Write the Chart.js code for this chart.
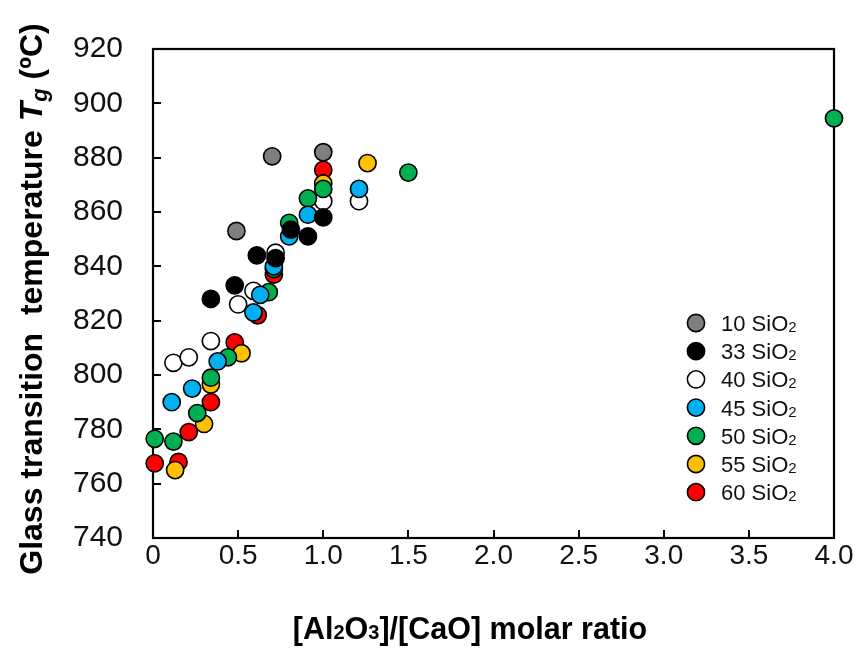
<!DOCTYPE html>
<html>
<head>
<meta charset="utf-8">
<script src="https://cdn.jsdelivr.net/npm/chart.js@4"></script>
<style>
html,body{margin:0;padding:0;background:#fff;}
#wrap{width:861px;height:648px;position:relative;}
</style>
</head>
<body>
<div id="wrap"><canvas id="c" width="861" height="648"></canvas></div>
<script>
// ---- data ----
const seriesNames = ['10', '33', '40', '45', '50', '55', '60'];
const seriesColors = ['#7f7f7f', '#000000', '#ffffff', '#00b0f0', '#00b050', '#ffc000', '#ff0000'];

const x10 = [0.49, 0.70, 1.00];
const y10 = [853, 880.5, 882];

const x33 = [0.34, 0.48, 0.61, 0.72, 0.81, 0.91, 1.00];
const y33 = [828, 833, 844, 843, 853.5, 851, 858];

const x40 = [0.12, 0.21, 0.34, 0.50, 0.59, 0.72, 1.00, 1.21];
const y40 = [804.5, 806.5, 812.5, 826, 831, 845, 864, 864];

const x45 = [0.11, 0.23, 0.38, 0.59, 0.63, 0.71, 0.80, 0.91, 1.21];
const y45 = [790, 795, 805, 823, 829.5, 840, 851, 859, 868.5];

const x50 = [0.01, 0.12, 0.26, 0.34, 0.44, 0.68, 0.71, 0.80, 0.91, 1.00, 1.50, 4.00];
const y50 = [776.5, 775.5, 786, 799, 806.5, 830.5, 839, 856, 865, 868.5, 874.5, 894.5];

const x55 = [0.13, 0.30, 0.34, 0.52, 1.00, 1.26];
const y55 = [765, 782, 796.5, 808, 870.5, 878];

const x60 = [0.01, 0.15, 0.21, 0.34, 0.48, 0.615, 0.71, 1.00];
const y60 = [767.5, 768, 779, 790, 812, 822, 837, 875.5];

const xTicks = [0, 0.5, 1.0, 1.5, 2.0, 2.5, 3.0, 3.5, 4.0];
const yTicks = [740, 760, 780, 800, 820, 840, 860, 880, 900, 920];

const allX = [x10, x33, x40, x45, x50, x55, x60];
const allY = [y10, y33, y40, y45, y50, y55, y60];
// drawing stack (lower = drawn on top)
const stackOrder = [0, 1, 5, 2, 3, 4, 6];

const datasets = seriesNames.map((n, i) => ({
  label: n + ' SiO2',
  data: allX[i].map((x, k) => ({x: x, y: allY[i][k]})),
  backgroundColor: seriesColors[i],
  borderColor: '#000000',
  borderWidth: 1.6,
  pointRadius: 8.6,
  pointHoverRadius: 8.6,
  order: stackOrder[i],
  clip: false
}));

const FONT = "'Liberation Sans', Arial, sans-serif";

const decor = {
  id: 'decor',
  beforeDatasetsDraw(chart) {
    const ctx = chart.ctx, a = chart.chartArea;
    const xs = chart.scales.x, ys = chart.scales.y;
    ctx.save();
    ctx.strokeStyle = '#000';
    ctx.lineWidth = 2.2;
    ctx.strokeRect(a.left, a.top, a.right - a.left, a.bottom - a.top);
    ctx.lineWidth = 2;
    ctx.beginPath();
    yTicks.forEach(v => {
      const p = Math.round(ys.getPixelForValue(v));
      ctx.moveTo(a.left, p); ctx.lineTo(a.left + 8, p);
    });
    xTicks.forEach(v => {
      const p = Math.round(xs.getPixelForValue(v));
      ctx.moveTo(p, a.bottom); ctx.lineTo(p, a.bottom - 8);
    });
    ctx.stroke();
    ctx.restore();
  },
  afterDraw(chart) {
    const ctx = chart.ctx;
    ctx.save();
    ctx.fillStyle = '#000';
    ctx.textBaseline = 'alphabetic';
    // ---- x title with subscripts ----
    const parts = [
      ['[Al', 'bold 30.5px ' + FONT, 0],
      ['2', 'bold 20px ' + FONT, 0],
      ['O', 'bold 30.5px ' + FONT, 0],
      ['3', 'bold 20px ' + FONT, 0],
      [']/[CaO] molar ratio', 'bold 30.5px ' + FONT, 0]
    ];
    let w = 0;
    parts.forEach(p => { ctx.font = p[1]; w += ctx.measureText(p[0]).width; });
    let x = 470 - w / 2;
    const by = 639;
    parts.forEach(p => { ctx.font = p[1]; ctx.fillText(p[0], x, by + p[2]); x += ctx.measureText(p[0]).width; });

    // ---- y title rotated ----
    ctx.save();
    ctx.translate(42, 299);
    ctx.rotate(-Math.PI / 2);
    const yparts = [
      ['Glass transition  temperature ', 'bold 32px ' + FONT, 0],
      ['T', 'italic bold 32px ' + FONT, 0],
      ['g', 'italic bold 22px ' + FONT, 5],
      [' (\u00baC)', 'bold 32px ' + FONT, 0]
    ];
    w = 0;
    yparts.forEach(p => { ctx.font = p[1]; w += ctx.measureText(p[0]).width; });
    x = -w / 2;
    yparts.forEach(p => { ctx.font = p[1]; ctx.fillText(p[0], x, p[2]); x += ctx.measureText(p[0]).width; });
    ctx.restore();

    // ---- legend ----
    const lx = 696, ly0 = 323, dy = 28.2;
    seriesNames.forEach((n, i) => {
      const cy = ly0 + i * dy;
      ctx.beginPath();
      ctx.arc(lx, cy, 8.6, 0, Math.PI * 2);
      ctx.fillStyle = seriesColors[i];
      ctx.fill();
      ctx.lineWidth = 1.6;
      ctx.strokeStyle = '#000';
      ctx.stroke();
      ctx.fillStyle = '#111';
      let tx = 721;
      ctx.font = '22px ' + FONT;
      const s1 = n + ' SiO';
      ctx.fillText(s1, tx, cy + 8);
      tx += ctx.measureText(s1).width;
      ctx.font = '15px ' + FONT;
      ctx.fillText('2', tx, cy + 9);
    });
    ctx.restore();
  }
};

new Chart(document.getElementById('c'), {
  type: 'scatter',
  data: { datasets: datasets },
  options: {
    responsive: false,
    animation: false,
    devicePixelRatio: 1,
    layout: { padding: { left: 0, right: 27, top: 49, bottom: 0 } },
    plugins: { legend: { display: false }, tooltip: { enabled: false } },
    scales: {
      x: {
        type: 'linear',
        min: 0, max: 4,
        afterBuildTicks(scale) { scale.ticks = xTicks.map(v => ({value: v})); },
        afterFit(scale) { scale.height = 110; },
        grid: { display: false, drawTicks: false },
        border: { display: false },
        ticks: {
          padding: 1,
          color: '#111',
          font: { family: FONT, size: 28 },
          callback: v => (v === 0 ? '0' : Number(v).toFixed(1)),
          maxRotation: 0, autoSkip: false
        }
      },
      y: {
        type: 'linear',
        min: 740, max: 920,
        afterBuildTicks(scale) { scale.ticks = yTicks.map(v => ({value: v})); },
        afterFit(scale) { scale.width = 153; },
        grid: { display: false, drawTicks: false },
        border: { display: false },
        ticks: {
          padding: 30,
          color: '#111',
          font: { family: FONT, size: 30 },
          callback: v => String(v)
        }
      }
    }
  },
  plugins: [decor]
});
</script>
</body>
</html>
